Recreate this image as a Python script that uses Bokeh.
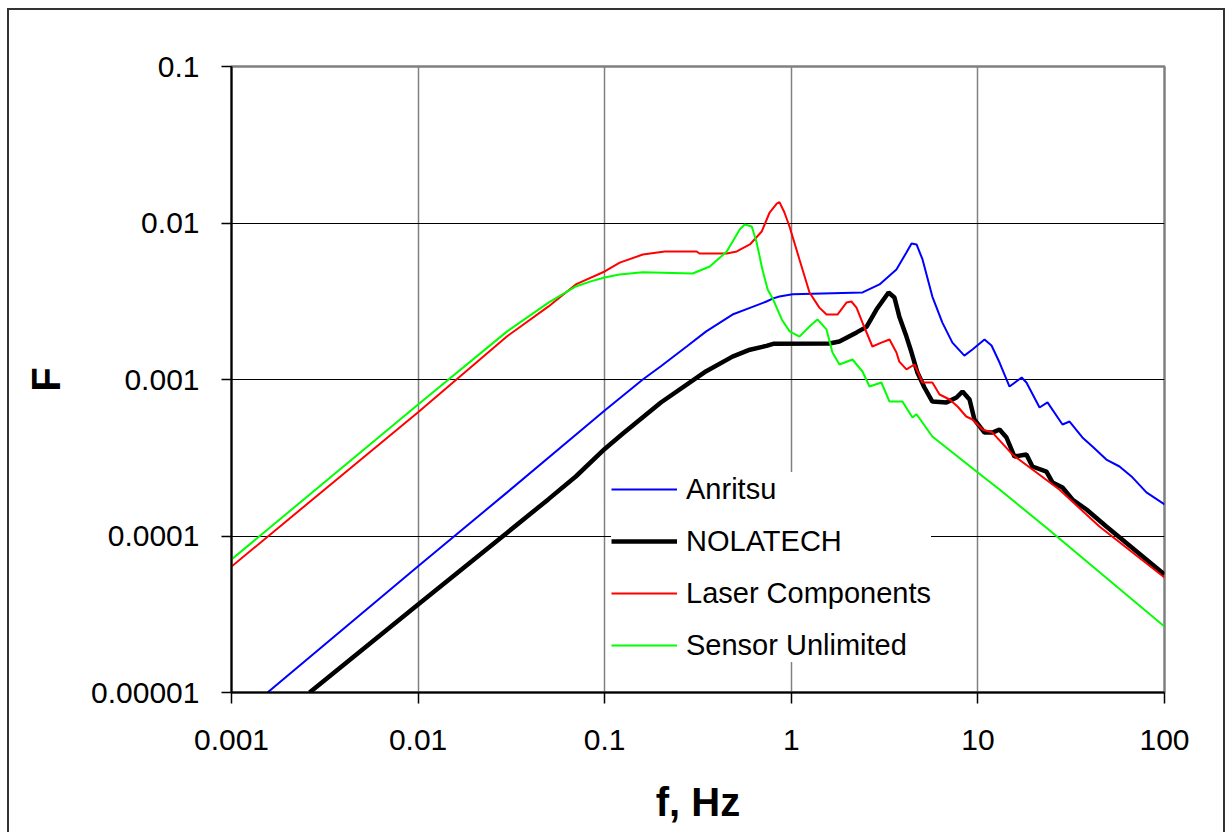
from bokeh.plotting import figure
from bokeh.models import FixedTicker, Legend, LegendItem, CustomJSTickFormatter
from bokeh.embed import file_html
from bokeh.resources import INLINE

# ---- tick values / labels ----
freq_ticks = [0.001, 0.01, 0.1, 1, 10, 100]
freq_tick_labels = ["0.001", "0.01", "0.1", "1", "10", "100"]
F_ticks = [0.00001, 0.0001, 0.001, 0.01, 0.1]
F_tick_labels = ["0.00001", "0.0001", "0.001", "0.01", "0.1"]

series_names = ["Anritsu", "NOLATECH", "Laser Components", "Sensor Unlimited"]

# ---- Anritsu ----
anritsu_f = [0.00156, 0.01, 0.03, 0.1, 0.16, 0.2, 0.275, 0.35, 0.484, 0.6, 0.736, 0.8, 0.864, 1.015,
             2.41, 2.97, 3.66, 4.14, 4.41, 4.69, 5.05, 5.70, 6.45, 7.30, 8.46, 9.35, 10.85, 11.83,
             13.06, 14.77, 17.15, 18.2, 21.4, 23.6, 28.4, 31.0, 36.3, 41.1, 48.8, 57.4, 67.3,
             80.0, 100]
anritsu_F = [1.0e-5, 6.41e-5, 1.9e-4, 6.34e-4, 1.0e-3, 1.216e-3, 1.625e-3, 2.03e-3, 2.6e-3,
             2.87e-3, 3.15e-3, 3.30e-3, 3.39e-3, 3.5e-3, 3.6e-3, 4.05e-3, 5.04e-3, 6.48e-3,
             7.40e-3, 7.29e-3, 5.85e-3, 3.39e-3, 2.31e-3, 1.72e-3, 1.42e-3, 1.555e-3, 1.80e-3,
             1.65e-3, 1.284e-3, 9.02e-4, 1.03e-3, 9.57e-4, 6.62e-4, 7.14e-4, 5.16e-4, 5.39e-4,
             4.26e-4, 3.73e-4, 3.08e-4, 2.78e-4, 2.37e-4, 1.90e-4, 1.59e-4]

# ---- NOLATECH ----
nolatech_f = [0.00262, 0.01, 0.03, 0.05, 0.07, 0.1, 0.1248, 0.2, 0.35, 0.484, 0.6, 0.736, 0.8, 1.6,
              1.81, 2.24, 2.53, 2.86, 3.32, 3.57, 3.79, 4.14, 4.41, 4.74, 5.17, 5.70, 6.79, 7.68,
              8.27, 9.02, 9.58, 10.85, 11.97, 13.06, 14.23, 15.7, 18.2, 19.6, 23.3, 25.1, 28.4,
              32.1, 38.2, 48.8, 100]
nolatech_F = [1.0e-5, 3.65e-5, 1.05e-4, 1.72e-4, 2.4e-4, 3.6e-4, 4.5e-4, 7.13e-4, 1.13e-3,
              1.40e-3, 1.55e-3, 1.64e-3, 1.69e-3, 1.70e-3, 1.75e-3, 2.0e-3, 2.17e-3, 2.8e-3,
              3.6e-3, 3.34e-3, 2.53e-3, 1.88e-3, 1.487e-3, 1.108e-3, 8.89e-4, 7.23e-4, 7.14e-4,
              7.67e-4, 8.38e-4, 7.45e-4, 5.55e-4, 4.58e-4, 4.58e-4, 4.79e-4, 4.26e-4, 3.22e-4,
              3.32e-4, 2.78e-4, 2.58e-4, 2.2e-4, 2.04e-4, 1.71e-4, 1.477e-4, 1.15e-4, 5.67e-5]

# ---- Laser Components ----
laser_f = [0.001, 0.01, 0.03, 0.05, 0.07, 0.1, 0.1204, 0.16, 0.21, 0.311, 0.322, 0.451, 0.51, 0.6,
           0.694, 0.765, 0.836, 0.864, 0.919, 0.978, 1.106, 1.252, 1.414, 1.544, 1.768, 1.975,
           2.1, 2.236, 2.407, 2.72, 3.04, 3.36, 3.66, 3.79, 4.14, 4.57, 5.05, 5.70, 6.23, 7.05,
           7.78, 8.66, 9.35, 10.58, 11.97, 15.3, 19.6, 27.3, 44.8, 100]
laser_F = [6.38e-5, 6.18e-4, 1.89e-3, 2.93e-3, 4.05e-3, 4.9e-3, 5.58e-3, 6.29e-3, 6.58e-3, 6.58e-3,
           6.38e-3, 6.38e-3, 6.58e-3, 7.29e-3, 8.82e-3, 1.167e-2, 1.332e-2, 1.36e-2, 1.167e-2,
           9.5e-3, 5.85e-3, 3.6e-3, 2.88e-3, 2.6e-3, 2.6e-3, 3.10e-3, 3.15e-3, 2.88e-3, 2.31e-3,
           1.625e-3, 1.72e-3, 1.80e-3, 1.487e-3, 1.30e-3, 1.16e-3, 1.247e-3, 9.57e-4, 9.57e-4,
           8.02e-4, 7.45e-4, 6.72e-4, 5.80e-4, 5.55e-4, 4.79e-4, 4.58e-4, 3.32e-4, 2.66e-4,
           1.98e-4, 1.15e-4, 5.43e-5]

# ---- Sensor Unlimited ----
sensor_f = [0.001, 0.01, 0.03, 0.05, 0.07, 0.085, 0.1, 0.12, 0.16, 0.296, 0.366, 0.451, 0.529, 0.563,
            0.614, 0.652, 0.70, 0.747, 0.80, 0.889, 0.98, 1.106, 1.252, 1.381, 1.544, 1.662, 1.812,
            2.127, 2.407, 2.625, 3.04, 3.36, 3.94, 4.46, 4.69, 5.70, 9.83, 13.06, 23.3, 100]
sensor_F = [7.08e-5, 6.92e-4, 2.03e-3, 3.10e-3, 3.93e-3, 4.25e-3, 4.49e-3, 4.69e-3, 4.85e-3,
            4.76e-3, 5.27e-3, 6.58e-3, 9.09e-3, 9.78e-3, 9.5e-3, 7.51e-3, 5.05e-3, 3.76e-3,
            3.24e-3, 2.42e-3, 2.03e-3, 1.88e-3, 2.18e-3, 2.42e-3, 2.09e-3, 1.487e-3, 1.247e-3,
            1.342e-3, 1.125e-3, 9.02e-4, 9.57e-4, 7.23e-4, 7.23e-4, 5.72e-4, 6.0e-4, 4.32e-4,
            2.58e-4, 1.98e-4, 1.13e-4, 2.64e-5]

FONT = "Liberation Sans"

p = figure(width=1218, height=824, x_axis_type="log", y_axis_type="log",
           x_range=(0.001, 100), y_range=(0.00001, 0.1),
           output_backend="svg", toolbar_location=None,
           min_border_left=222, min_border_right=63, min_border_top=56, min_border_bottom=142,
           background_fill_color="white", border_fill_color="white")
p.styles = {"border-left": "2px solid #333333", "border-top": "2px solid #333333",
            "border-right": "2px solid #333333", "margin-left": "7px", "margin-top": "8px"}

p.outline_line_color = "#808080"
p.outline_line_width = 2.5

fmt_x = CustomJSTickFormatter(args=dict(vals=freq_ticks, labels=freq_tick_labels), code="""
const i = vals.findIndex(v => Math.abs(Math.log10(v) - Math.log10(tick)) < 1e-6);
return i >= 0 ? labels[i] : "";
""")
fmt_y = CustomJSTickFormatter(args=dict(vals=F_ticks, labels=F_tick_labels), code="""
const i = vals.findIndex(v => Math.abs(Math.log10(v) - Math.log10(tick)) < 1e-6);
return i >= 0 ? labels[i] : "";
""")

p.xaxis.ticker = FixedTicker(ticks=freq_ticks)
p.yaxis.ticker = FixedTicker(ticks=F_ticks)
p.xaxis.formatter = fmt_x
p.yaxis.formatter = fmt_y

for ax in (p.xaxis, p.yaxis):
    ax.axis_line_color = "black"
    ax.axis_line_width = 2
    ax.major_tick_line_color = "black"
    ax.major_tick_line_width = 1.5
    ax.major_tick_in = 0
    ax.minor_tick_line_color = None
    ax.major_label_text_font = FONT
    ax.major_label_text_font_size = "30px"
    ax.major_label_text_color = "black"
    ax.major_label_standoff = 22
    ax.axis_label_text_font = FONT
    ax.axis_label_text_font_size = "40px"
    ax.axis_label_text_font_style = "bold"
    ax.axis_label_text_color = "black"
    ax.axis_label_standoff = 20

p.xaxis.major_tick_out = 11
p.yaxis.major_tick_out = 10
p.xaxis.major_label_standoff = 26
p.xaxis.axis_label_standoff = 27
p.xaxis.axis_label = "f, Hz"
p.yaxis.axis_label = "F"

p.xgrid.grid_line_color = "#808080"
p.xgrid.grid_line_width = 1.5
p.ygrid.grid_line_color = "black"
p.ygrid.grid_line_width = 1

r_a = p.line(anritsu_f, anritsu_F, line_color="#0000FF", line_width=2)
r_n = p.line(nolatech_f, nolatech_F, line_color="black", line_width=4.5)
r_l = p.line(laser_f, laser_F, line_color="#FF0000", line_width=2)
r_s = p.line(sensor_f, sensor_F, line_color="#00FF00", line_width=2)

legend = Legend(items=[LegendItem(label=series_names[0], renderers=[r_a]),
                       LegendItem(label=series_names[1], renderers=[r_n]),
                       LegendItem(label=series_names[2], renderers=[r_l]),
                       LegendItem(label=series_names[3], renderers=[r_s])],
                location=(380, 30), orientation="vertical",
                label_text_font=FONT, label_text_font_size="29px", label_text_color="black",
                glyph_width=66, glyph_height=34, label_height=34, label_standoff=9,
                spacing=18, padding=10, margin=0,
                border_line_color=None, background_fill_color="white", background_fill_alpha=1.0)
p.add_layout(legend, "center")

open("out.html", "w").write(file_html(p, INLINE))
